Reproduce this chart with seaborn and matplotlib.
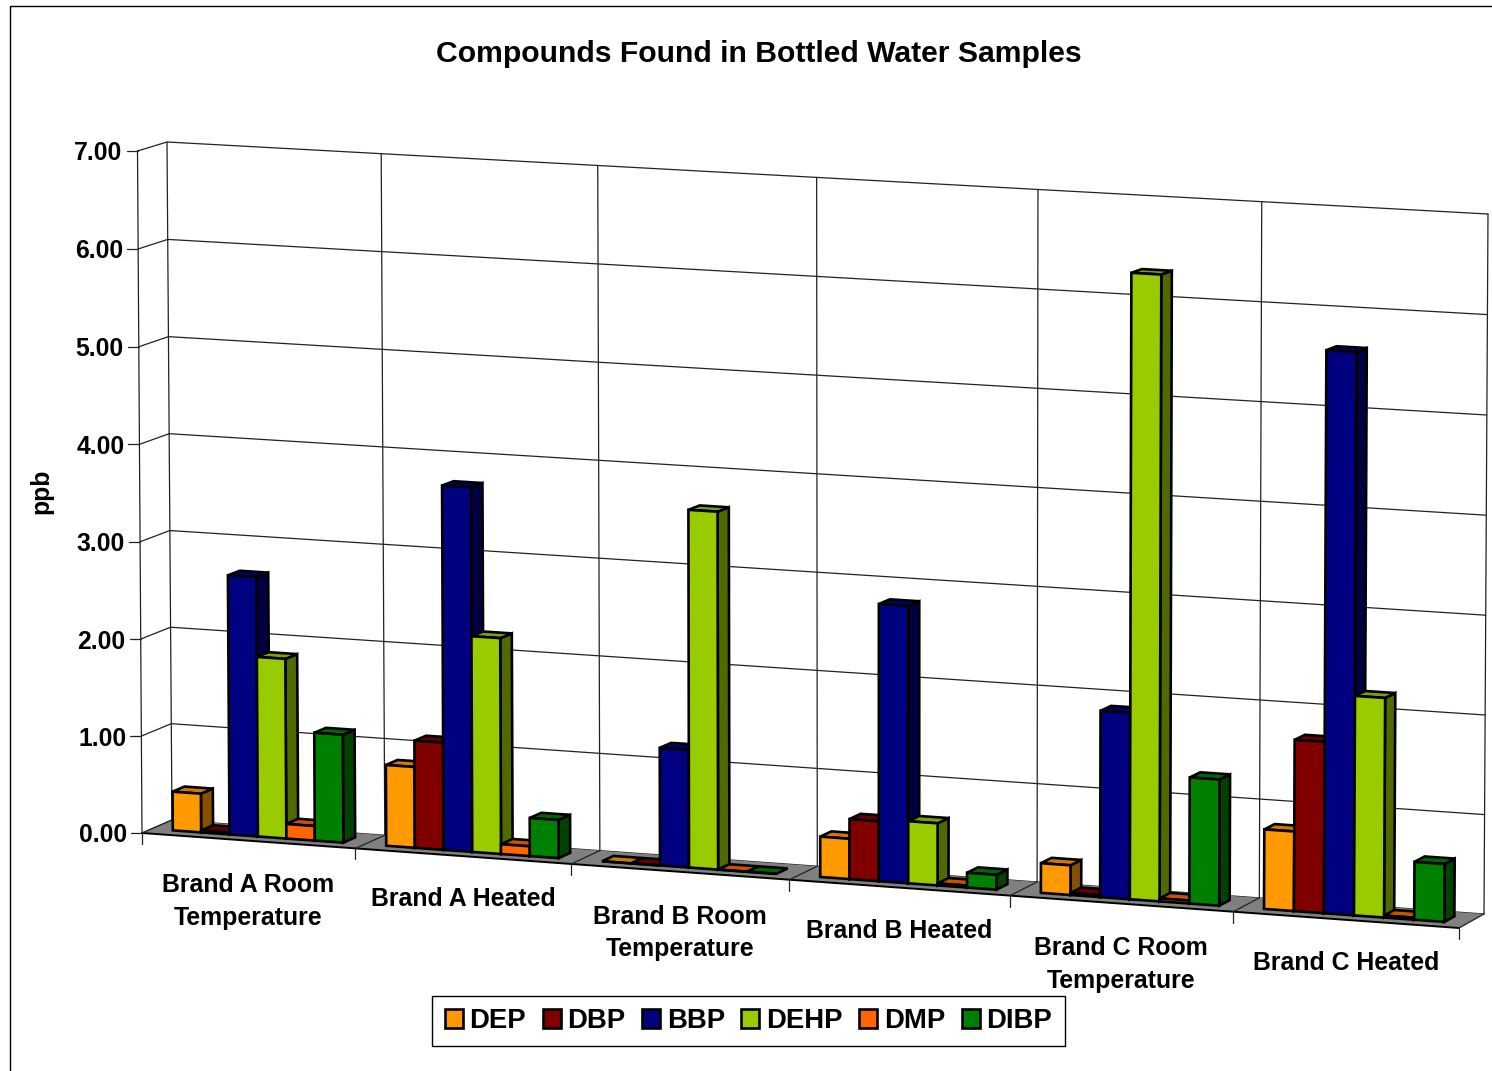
import matplotlib

matplotlib.use("Agg")
import matplotlib.pyplot as plt
import matplotlib.transforms as mtransforms
import numpy as np
import pandas as pd
import seaborn as sns
from matplotlib.lines import Line2D
from matplotlib.patches import Polygon, Rectangle

W, H = 1492, 1071

categories = [
    "Brand A Room\nTemperature",
    "Brand A Heated",
    "Brand B Room\nTemperature",
    "Brand B Heated",
    "Brand C Room\nTemperature",
    "Brand C Heated",
]
compounds = ["DEP", "DBP", "BBP", "DEHP", "DMP", "DIBP"]
dep = [0.40, 0.83, 0.00, 0.41, 0.30, 0.80]
dbp = [0.02, 1.10, 0.00, 0.61, 0.02, 1.72]
bbp = [2.67, 3.73, 1.20, 2.81, 1.88, 5.63]
dehp = [1.85, 2.21, 3.64, 0.63, 6.29, 2.20]
dmp = [0.15, 0.10, 0.00, 0.02, 0.03, 0.02]
dibp = [1.11, 0.39, 0.00, 0.15, 1.27, 0.58]
colors = ["#FF9900", "#800000", "#000080", "#99CC00", "#FF6600", "#008000"]
yticks = [0, 1, 2, 3, 4, 5, 6, 7]
ymax = 7

# corners of the front and back planes of the 3D box, in image pixels
FRONT = [(142, 833), (1459, 928), (137.5, 151), (1463, 223)]
BACK = [(172, 820), (1484, 914), (167, 142), (1488, 214)]
BAR_D0, BAR_D1 = 0.32, 0.72


def homography(corners):
    src = [(0, 0), (6, 0), (0, ymax), (6, ymax)]
    rows, rhs = [], []
    for (a, b), (px, py) in zip(src, corners):
        rows.append([a, b, 1, 0, 0, 0, -a * px, -b * px])
        rows.append([0, 0, 0, a, b, 1, -a * py, -b * py])
        rhs += [px, py]
    return np.append(np.linalg.solve(np.array(rows, float), np.array(rhs, float)), 1).reshape(3, 3)


H_FRONT = homography(FRONT)
H_BACK = homography(BACK)


def apply_h(h, x, y):
    pts = h @ np.vstack([x + 0.5, y, np.ones_like(x)])
    return np.column_stack([pts[0] / pts[2], pts[1] / pts[2]])


def proj(x, y, d=0.0):
    x = np.atleast_1d(np.asarray(x, float))
    y = np.atleast_1d(np.asarray(y, float))
    x, y = np.broadcast_arrays(x, y)
    return (1 - d) * apply_h(H_FRONT, x, y) + d * apply_h(H_BACK, x, y)


class Tilt(mtransforms.Transform):
    input_dims = 2
    output_dims = 2

    def __init__(self, plane):
        super().__init__()
        self.plane = plane

    def transform_non_affine(self, values):
        values = np.asarray(values, float)
        return proj(values[:, 0], values[:, 1], self.plane)


def shade(color, k):
    return tuple(c * k for c in matplotlib.colors.to_rgb(color))


sns.set_theme(style="white")
plt.rcParams["font.family"] = ["Liberation Sans", "DejaVu Sans"]
plt.rcParams["font.weight"] = "bold"
plt.rcParams["text.color"] = "black"

df = pd.DataFrame({"category": categories})
for name, values in zip(compounds, [dep, dbp, bbp, dehp, dmp, dibp]):
    df[name] = values
long_df = df.melt(id_vars="category", var_name="compound", value_name="ppb")

fig = plt.figure(figsize=(W / 100, H / 100), dpi=100, facecolor="white")
ax = fig.add_axes([0, 0, 1, 1])
sns.barplot(
    data=long_df, x="category", y="ppb", hue="compound", order=categories, hue_order=compounds,
    palette=colors, saturation=1, width=0.8, gap=0, errorbar=None, edgecolor="black", linewidth=1.9, ax=ax,
)
ax.set_xlim(-0.5, 5.5)
ax.set_ylim(0, ymax)
ax.axis("off")

to_fig = mtransforms.Affine2D().scale(1 / W, -1 / H).translate(0, 1) + fig.transFigure


def line(points, color="#222222", lw=0.9, z=1):
    points = np.vstack(points)
    ax.add_line(Line2D(points[:, 0], points[:, 1], color=color, lw=lw, transform=to_fig, clip_on=False, zorder=z))


def poly(points, face, z, edge="black", lw=1.9):
    ax.add_patch(Polygon(np.vstack(points), closed=True, facecolor=face, edgecolor=edge, linewidth=lw,
                         transform=to_fig, clip_on=False, zorder=z, joinstyle="miter"))


# chart border, runs off the right and bottom of the image
ax.add_patch(Rectangle((9.5, 5.5), W, H, fill=False, edgecolor="black", linewidth=1.0,
                       transform=to_fig, clip_on=False, zorder=0.5))

# floor
poly([proj(-0.5, 0, 0), proj(5.5, 0, 0), proj(5.5, 0, 1), proj(-0.5, 0, 1)], "#808080", 1.2, edge="none", lw=0)
line([proj(-0.5, 0, 0), proj(5.5, 0, 0)], color="black", lw=1.4, z=1.3)

# walls and ticks
for val in yticks:
    line([proj(-0.5, val, 0), proj(-0.5, val, 1), proj(5.5, val, 1)], z=1.1)
    front = proj(-0.5, val, 0)[0]
    line([front, front + (-11, 0)], z=1.1)
    ax.annotate(f"{val:.2f}", xy=front, xycoords=to_fig, xytext=(-15, 0), textcoords="offset pixels",
                ha="right", va="center_baseline", fontsize=17.8, fontweight="bold", color="black")
line([proj(-0.5, 0, 0), proj(-0.5, ymax, 0)], z=1.1)
for edge in np.arange(-0.5, 6):
    line([proj(edge, 0, 1), proj(edge, ymax, 1)], z=1.1)
    line([proj(edge, 0, 1), proj(edge, 0, 0)], z=1.3)
    bottom = proj(edge, 0, 0)[0]
    line([bottom, bottom + (0, 11)], z=1.1)

# bars: the fronts come from seaborn, tops and sides follow from their size
for h_idx, container in enumerate(ax.containers):
    for bar in container.patches:
        x0, x1 = bar.get_x(), bar.get_x() + bar.get_width()
        top = bar.get_height()
        cat_idx = int(round((x0 + x1) / 2))
        z = 2 + cat_idx + h_idx / 10
        bar.set_transform(Tilt(BAR_D0) + to_fig)
        bar.set_clip_on(False)
        bar.set_zorder(z + 0.02)
        if top > 0:
            poly([proj(x1, 0, BAR_D0), proj(x1, 0, BAR_D1), proj(x1, top, BAR_D1), proj(x1, top, BAR_D0)],
                 shade(colors[h_idx], 0.52), z)
        poly([proj(x0, top, BAR_D0), proj(x1, top, BAR_D0), proj(x1, top, BAR_D1), proj(x0, top, BAR_D1)],
             shade(colors[h_idx], 0.8), z + 0.01)

# category labels, centred below each slot
for i, label in enumerate(categories):
    ax.annotate(label, xy=proj(i, 0, 0)[0], xycoords=to_fig, xytext=(0, -61 if "\n" in label else -43),
                textcoords="offset pixels", ha="center", va="center", fontsize=17.9,
                fontweight="bold", linespacing=1.45, color="black")

ax.text(759, 53.5, "Compounds Found in Bottled Water Samples", transform=to_fig, ha="center", va="center",
        fontsize=21.7, fontweight="bold", color="black")
ax.text(41, 491, "ppb", transform=to_fig, rotation=90, ha="center", va="center", fontsize=17.8,
        fontweight="bold", color="black")

sns.move_legend(
    ax, loc="center", bbox_to_anchor=(748.5 / W, 1 - 1021 / H), bbox_transform=fig.transFigure,
    ncol=6, title=None, frameon=True, fancybox=False, edgecolor="black", framealpha=1, fontsize=19.8,
    handlelength=0.65, handleheight=0.65, handletextpad=0.25, columnspacing=0.6, borderpad=0.45,
)
ax.get_legend().get_frame().set_linewidth(1.0)
ax.get_legend().set_zorder(20)
for text in ax.get_legend().get_texts():
    text.set_color("black")

fig.savefig("out.png", dpi=100)
